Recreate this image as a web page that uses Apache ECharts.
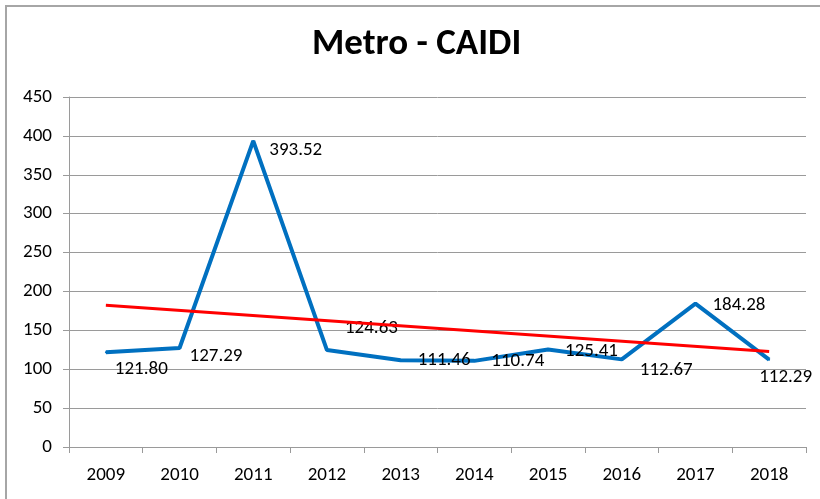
<!DOCTYPE html>
<html>
<head>
<meta charset="utf-8">
<script src="https://cdn.jsdelivr.net/npm/echarts@6/dist/echarts.min.js"></script>
<style>
  html, body {margin: 0; padding: 0; background: #fff;}
  #chart {width: 820px; height: 499px;}
</style>
</head>
<body>
<div id="chart"></div>
<script>
// data
const years = ['2009', '2010', '2011', '2012', '2013', '2014', '2015', '2016', '2017', '2018'];
const caidi = [121.80, 127.29, 393.52, 124.63, 111.46, 110.74, 125.41, 112.67, 184.28, 112.29];
// linear trend, read at its two ends
const trendStart = 182.1;
const trendEnd = 122.7;

const font = 'Carlito, Calibri, Lato, sans-serif';

const trend = years.map((y, i) => i === 0 ? trendStart : (i === years.length - 1 ? trendEnd : null));

// label nudges (style only), like Excel's placement
const labelNudge = [[3, 17], [4, 8], [10, 9], [12, -22], [11, 0], [11, 0], [11, 2], [12, 11], [11, 2], [-16, 18]];

const myChart = echarts.init(document.getElementById('chart'));
myChart.setOption({
  animation: false,
  title: {
    text: 'Metro - CAIDI',
    left: 307,
    top: 21,
    textStyle: {fontFamily: font, fontSize: 37, fontWeight: 'bold', color: '#000'}
  },
  graphic: [{
    type: 'polyline',
    shape: {points: [[6, 499], [6, 6], [820, 6]]},
    style: {stroke: '#a6a6a6', lineWidth: 2, fill: null},
    silent: true
  }],
  grid: {left: 69, right: 14, top: 97, bottom: 52},
  xAxis: {
    type: 'category',
    data: years,
    boundaryGap: true,
    axisLine: {lineStyle: {color: '#9a9a9a', width: 1}},
    axisTick: {show: true, length: 6, lineStyle: {color: '#9a9a9a'}},
    axisLabel: {fontFamily: font, fontSize: 19, color: '#000', margin: 19}
  },
  yAxis: {
    type: 'value',
    min: 0,
    max: 450,
    interval: 50,
    axisLine: {show: true, lineStyle: {color: '#9a9a9a', width: 1}},
    axisTick: {show: true, length: 6, lineStyle: {color: '#9a9a9a'}},
    splitLine: {lineStyle: {color: '#9a9a9a', width: 1}},
    axisLabel: {fontFamily: font, fontSize: 19, color: '#000', margin: 17}
  },
  series: [
    {
      name: 'CAIDI',
      type: 'line',
      data: caidi,
      symbol: 'circle',
      symbolSize: 2,
      showSymbol: true,
      lineStyle: {color: '#0070c0', width: 4},
      itemStyle: {color: '#0070c0'},
      label: {
        show: true,
        position: 'right',
        fontFamily: font,
        fontSize: 19,
        color: '#000',
        formatter: p => p.value.toFixed(2)
      },
      labelLayout: p => ({
        dx: labelNudge[p.dataIndex][0],
        dy: labelNudge[p.dataIndex][1],
        hideOverlap: false
      }),
      z: 2
    },
    {
      name: 'Trend',
      type: 'line',
      data: trend,
      connectNulls: true,
      symbol: 'none',
      lineStyle: {color: '#ff0000', width: 3},
      z: 3
    }
  ]
});
</script>
</body>
</html>
